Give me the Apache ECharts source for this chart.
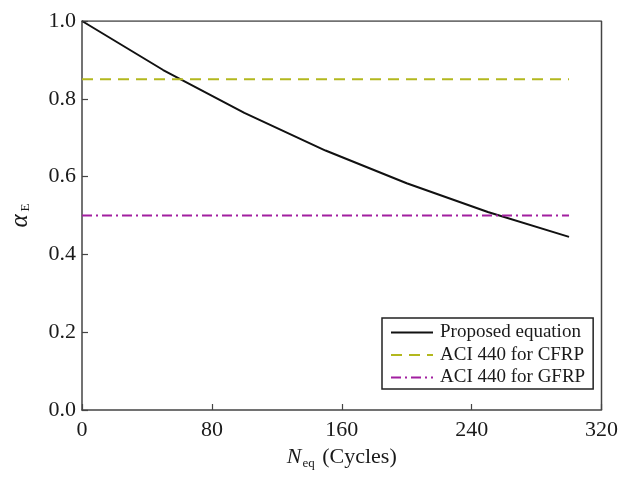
<!DOCTYPE html>
<html>
<head>
<meta charset="utf-8">
<script src="https://cdn.jsdelivr.net/npm/echarts@6/dist/echarts.min.js"></script>
<style>html,body{margin:0;padding:0;background:#fff}#c{width:621px;height:479px}</style>
</head>
<body>
<div id="c"></div>
<script>
// Data
const cycles = [0, 50, 100, 150, 200, 250, 300];
const proposed = [1.0, 0.874, 0.764, 0.667, 0.583, 0.509, 0.445];
const cfrpX = [0, 300];
const cfrpY = [0.85, 0.85];
const gfrpX = [0, 300];
const gfrpY = [0.5, 0.5];
const seriesNames = ['Proposed equation', 'ACI 440 for CFRP', 'ACI 440 for GFRP'];

const font = 'Liberation Serif, Times New Roman, serif';
const axisColor = '#444';
const chart = echarts.init(document.getElementById('c'), null, {renderer: 'canvas'});
const pairs = (xs, ys) => xs.map((x, i) => [x, ys[i]]);

chart.setOption({
  animation: false,
  backgroundColor: '#fff',
  grid: {left: 79, right: 16, top: 21, bottom: 69, show: false},
  xAxis: {
    type: 'value', min: 0, max: 320, interval: 80,
    axisLine: {show: true, lineStyle: {color: axisColor, width: 1.5}},
    axisTick: {show: true, inside: true, length: 6, lineStyle: {color: axisColor, width: 1.2}},
    axisLabel: {color: '#1a1a1a', fontFamily: font, fontSize: 22, margin: 9},
    splitLine: {show: false},
    name: '{i|N}{s|eq}{n| (Cycles)}',
    nameLocation: 'middle', nameGap: 35,
    nameTextStyle: {
      rich: {
        i: {fontFamily: font, fontSize: 22, fontStyle: 'italic', color: '#1a1a1a'},
        s: {fontFamily: font, fontSize: 13, color: '#1a1a1a', padding: [12, 2, 0, 1]},
        n: {fontFamily: font, fontSize: 22, color: '#1a1a1a'}
      }
    }
  },
  yAxis: {
    type: 'value', min: 0, max: 1.0, interval: 0.2,
    axisLine: {show: true, lineStyle: {color: axisColor, width: 1.5}},
    axisTick: {show: true, inside: true, length: 6, lineStyle: {color: axisColor, width: 1.2}},
    axisLabel: {color: '#1a1a1a', fontFamily: font, fontSize: 22, margin: 6, formatter: v => v.toFixed(1)},
    splitLine: {show: false},
    name: '{i|α}{s|E}',
    nameLocation: 'middle', nameGap: 49, nameRotate: 90,
    nameTextStyle: {
      rich: {
        i: {fontFamily: font, fontSize: 25, fontStyle: 'italic', color: '#1a1a1a'},
        s: {fontFamily: font, fontSize: 13, color: '#1a1a1a', padding: [10, 0, 0, 3]}
      }
    }
  },
  legend: {
    show: true,
    left: 382, top: 318,
    orient: 'vertical',
    backgroundColor: '#fff',
    borderColor: '#222', borderWidth: 1.5, borderRadius: 0,
    padding: [5, 8, 2, 8],
    itemGap: 3.5, itemWidth: 42, itemHeight: 20,
    itemStyle: {opacity: 0},
    textStyle: {fontFamily: font, fontSize: 19, color: '#1a1a1a', padding: [0, 0, 0, 2]},
    data: seriesNames.map(n => ({name: n}))
  },
  series: [
    {
      name: seriesNames[0], type: 'line', data: pairs(cycles, proposed),
      symbol: 'none', smooth: false,
      lineStyle: {color: '#111', width: 2}, itemStyle: {color: '#111'}
    },
    {
      name: seriesNames[1], type: 'line', data: pairs(cfrpX, cfrpY),
      symbol: 'none',
      lineStyle: {color: '#b3b81e', width: 2, type: [11, 7]}, itemStyle: {color: '#b3b81e'}
    },
    {
      name: seriesNames[2], type: 'line', data: pairs(gfrpX, gfrpY),
      symbol: 'none',
      lineStyle: {color: '#a21fa0', width: 2, type: [10, 4, 2, 4]}, itemStyle: {color: '#a21fa0'}
    },
    // frame: top and right borders
    {
      type: 'line', data: [[0, 1.0], [320, 1.0], [320, 0]], symbol: 'none', silent: true,
      lineStyle: {color: axisColor, width: 1.5}, tooltip: {show: false}
    }
  ]
});
</script>
</body>
</html>
